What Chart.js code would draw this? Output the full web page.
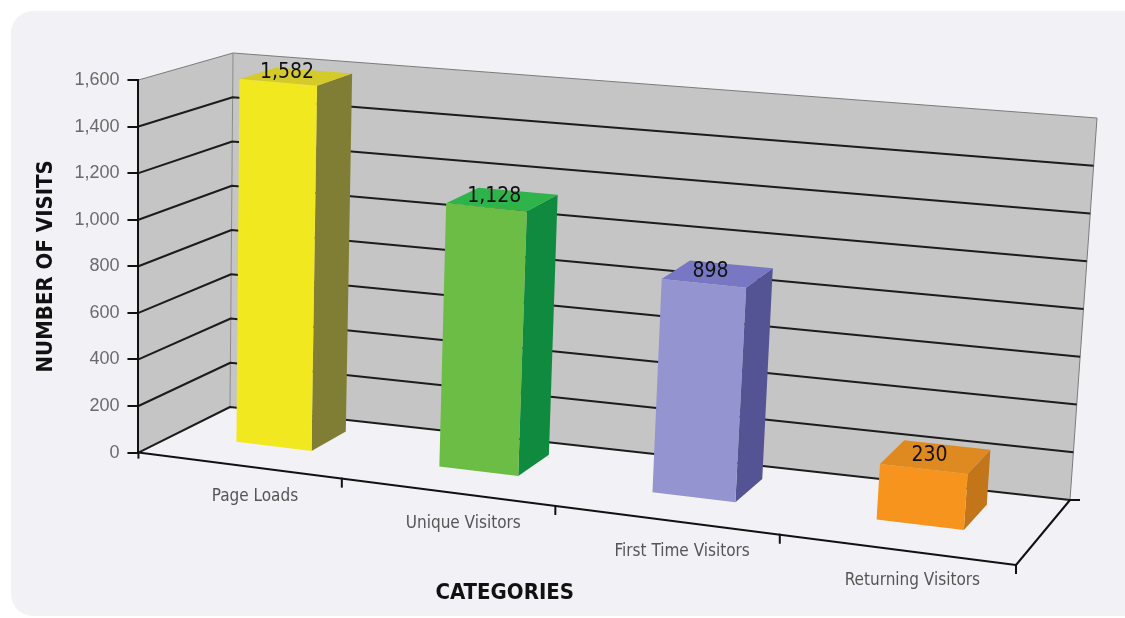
<!DOCTYPE html>
<html>
<head>
<meta charset="utf-8">
<script src="https://cdn.jsdelivr.net/npm/chart.js@4.4.1/dist/chart.umd.min.js"></script>
<style>
  html, body { margin: 0; padding: 0; background: #fff; overflow: hidden; }
  #panel { position: absolute; left: 11px; top: 11px; width: 1140px; height: 605px; border-radius: 22px; background: #f2f2f6; }
  #chart { position: absolute; left: 0; top: 0; }
</style>
</head>
<body>
<div id="panel"></div>
<canvas id="chart" width="1125" height="618"></canvas>
<script>
// Data
const categories = ['Page Loads', 'Unique Visitors', 'First Time Visitors', 'Returning Visitors'];
const visits = [1582, 1128, 898, 230];
const yMax = 1600;
const yStep = 200;

// Bar colours: front, right side, top
const frontColors = ['#f2e81f', '#6cbd46', '#9494d0', '#f7941d'];
const sideColors = ['#807e34', '#0f8a3f', '#545494', '#c27519'];
const topColors = ['#d4cb2b', '#2fb34b', '#7777c3', '#de8a21'];

const FONT_NARROW = "'Liberation Sans Narrow', 'Arial Narrow', 'DejaVu Sans Condensed', sans-serif";
const FONT_REG = "'Liberation Sans', Arial, sans-serif";

// 3D box corners (screen px), front-left edge comes from the chart area
const BOX = {
    bbl: [230, 407], btl: [233, 53],
    bbr: [1070, 500], btr: [1097, 118],
    fbr: [1016, 565], ftr: [1046, 167]
};
const PERSP = -0.095;      // horizontal foreshortening
const BAR_DEPTH = [0.4, 0.8];

function projector(chart) {
    const ca = chart.chartArea;
    const fbl = [ca.left, ca.bottom], ftl = [ca.left, ca.top];
    const mix = (a, b, t) => [a[0] + (b[0] - a[0]) * t, a[1] + (b[1] - a[1]) * t];
    return (u, v, w) => {
        const p = u * (1 + PERSP) / (1 + PERSP * u);
        const bottom = mix(mix(fbl, BOX.fbr, p), mix(BOX.bbl, BOX.bbr, p), w);
        const top = mix(mix(ftl, BOX.ftr, p), mix(BOX.btl, BOX.btr, p), w);
        return mix(bottom, top, v);
    };
}

function fillPoly(ctx, pts, color) {
    ctx.beginPath();
    pts.forEach((p, i) => i ? ctx.lineTo(p[0], p[1]) : ctx.moveTo(p[0], p[1]));
    ctx.closePath();
    ctx.fillStyle = color;
    ctx.fill();
}

function strokeLine(ctx, pts, color, width) {
    ctx.beginPath();
    pts.forEach((p, i) => i ? ctx.lineTo(p[0], p[1]) : ctx.moveTo(p[0], p[1]));
    ctx.strokeStyle = color;
    ctx.lineWidth = width;
    ctx.stroke();
}

const box3d = {
    id: 'box3d',
    beforeDraw(chart) {
        const ctx = chart.ctx, ca = chart.chartArea;
        const yScale = chart.scales.y, xScale = chart.scales.x;
        const P = projector(chart);
        ctx.save();
        ctx.lineJoin = 'round';

        // side wall and back wall
        fillPoly(ctx, [P(0, 0, 0), P(0, 0, 1), P(0, 1, 1), P(0, 1, 0)], '#c5c5c5');
        fillPoly(ctx, [P(0, 0, 1), P(1, 0, 1), P(1, 1, 1), P(0, 1, 1)], '#c5c5c5');
        strokeLine(ctx, [P(0, 1, 0), P(0, 1, 1), P(1, 1, 1), P(1, 0, 1)], '#7a7a7a', 1);
        strokeLine(ctx, [P(0, 0, 1), P(0, 1, 1)], '#8a8a8a', 1);

        // gridlines from the y scale ticks
        yScale.ticks.forEach(t => {
            if (t.value >= yMax) return;
            const v = (ca.bottom - yScale.getPixelForValue(t.value)) / (ca.bottom - ca.top);
            strokeLine(ctx, [P(0, v, 0), P(0, v, 1), P(1, v, 1)], '#1c1c1c', 2);
        });

        // floor edges
        strokeLine(ctx, [P(0, 0, 0), P(1, 0, 0), P(1, 0, 1)], '#111', 2);
        const bbr = P(1, 0, 1);
        strokeLine(ctx, [bbr, [bbr[0] + 10, bbr[1]]], '#111', 2);
        for (let i = 1; i <= categories.length; i++) {
            const px = xScale.getPixelForValue(i - 0.5);
            const pt = P((px - ca.left) / (ca.right - ca.left), 0, 0);
            strokeLine(ctx, [[pt[0], pt[1] - 1], [pt[0], pt[1] + 9]], '#111', 2);
        }
        const fbl = P(0, 0, 0);
        strokeLine(ctx, [fbl, [fbl[0], fbl[1] + 6]], '#111', 2);

        // category labels along the front edge
        ctx.font = '17px ' + FONT_NARROW;
        ctx.fillStyle = '#555';
        ctx.textAlign = 'center';
        ctx.textBaseline = 'middle';
        categories.forEach((c, i) => {
            const px = xScale.getPixelForValue(i);
            const pt = P((px - ca.left) / (ca.right - ca.left), 0, 0);
            ctx.fillText(c, pt[0] + 16, pt[1] + 31);
        });
        ctx.restore();
    },
    beforeDatasetDraw() {
        return false;
    },
    afterDatasetsDraw(chart) {
        const ctx = chart.ctx, ca = chart.chartArea;
        const P = projector(chart);
        const meta = chart.getDatasetMeta(0);
        const [w0, w1] = BAR_DEPTH;
        ctx.save();
        meta.data.forEach((el, i) => {
            const {x, y, width} = el.getProps(['x', 'y', 'width'], true);
            const u0 = (x - width / 2 - ca.left) / (ca.right - ca.left);
            const u1 = (x + width / 2 - ca.left) / (ca.right - ca.left);
            const v = (ca.bottom - y) / (ca.bottom - ca.top);
            fillPoly(ctx, [P(u1, 0, w0), P(u1, 0, w1), P(u1, v, w1), P(u1, v, w0)], sideColors[i]);
            fillPoly(ctx, [P(u0, v, w0), P(u1, v, w0), P(u1, v, w1), P(u0, v, w1)], topColors[i]);
            fillPoly(ctx, [P(u0, 0, w0), P(u1, 0, w0), P(u1, v, w0), P(u0, v, w0)], frontColors[i]);

            const lp = P((u0 + u1) / 2, v, w0 + 0.1);
            ctx.font = '21px ' + FONT_NARROW;
            ctx.fillStyle = '#111';
            ctx.textAlign = 'center';
            ctx.textBaseline = 'middle';
            ctx.fillText(visits[i].toLocaleString('en-US'), lp[0], lp[1] - 7);
        });
        ctx.restore();
    }
};

new Chart(document.getElementById('chart'), {
    type: 'bar',
    data: {
        labels: categories,
        datasets: [{
            data: visits,
            backgroundColor: frontColors,
            barPercentage: 0.47,
            categoryPercentage: 0.8
        }]
    },
    options: {
        responsive: false,
        animation: false,
        layout: { padding: { left: 33, top: 80, right: 254, bottom: 12 } },
        plugins: { legend: { display: false }, tooltip: { enabled: false } },
        scales: {
            x: {
                grid: { display: false },
                border: { display: false },
                ticks: { display: false },
                title: {
                    display: true, text: 'CATEGORIES', color: '#111',
                    font: { family: FONT_NARROW, size: 22, weight: 'bold' },
                    padding: { top: 119, bottom: 0 }
                }
            },
            y: {
                min: 0,
                max: yMax,
                ticks: { stepSize: yStep, color: '#6a6a6a', font: { family: FONT_REG, size: 18 }, padding: 8 },
                grid: { drawOnChartArea: false, drawTicks: true, tickLength: 11, color: '#111', lineWidth: 2 },
                border: { display: true, color: '#111', width: 2 },
                title: {
                    display: true, text: 'NUMBER OF VISITS', color: '#111',
                    font: { family: FONT_NARROW, size: 22, weight: 'bold' },
                    padding: { top: 0, bottom: 7 }
                }
            }
        }
    },
    plugins: [box3d]
});
</script>
</body>
</html>
